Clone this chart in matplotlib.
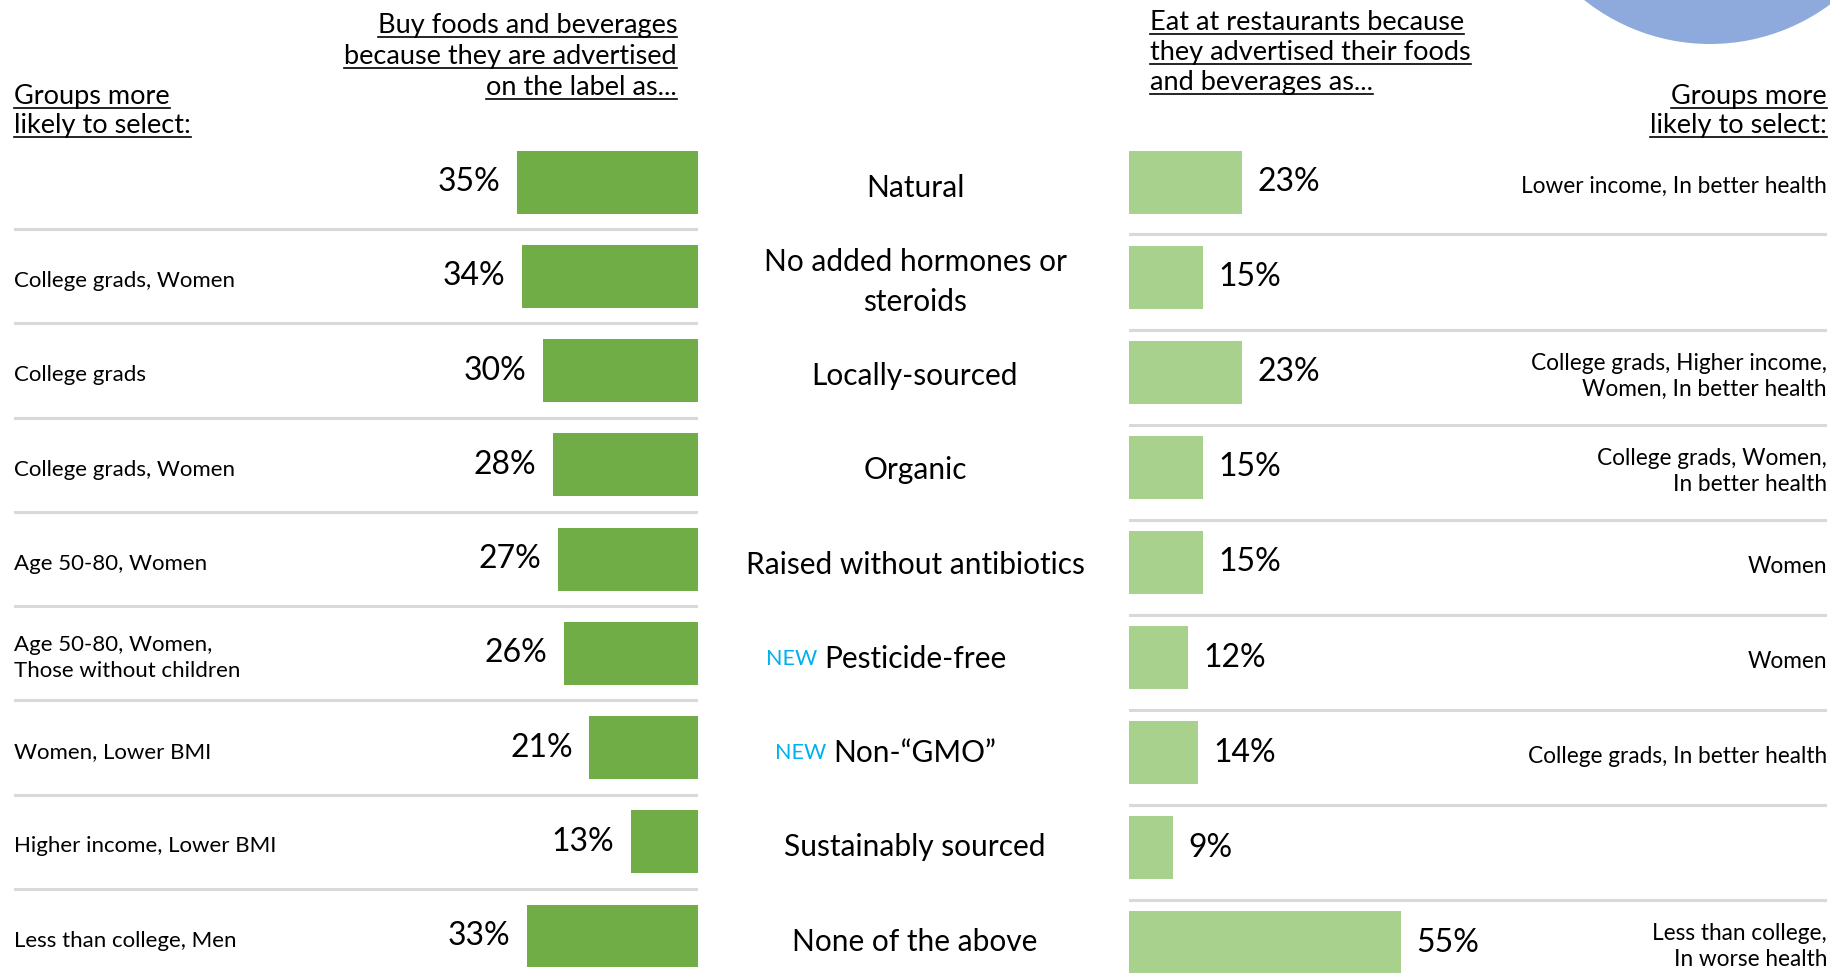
import matplotlib
matplotlib.use("Agg")
import matplotlib.pyplot as plt
from matplotlib.patches import Ellipse
from matplotlib.lines import Line2D
from matplotlib.transforms import blended_transform_factory

plt.rcParams['font.family'] = ['Lato', 'DejaVu Sans']

# data
claims = ["Natural", "No added hormones or\nsteroids", "Locally-sourced", "Organic",
          "Raised without antibiotics", "Pesticide-free", "Non-\u201cGMO\u201d",
          "Sustainably sourced", "None of the above"]
is_new = [False, False, False, False, False, True, True, False, False]
buy_pct = [35, 34, 30, 28, 27, 26, 21, 13, 33]
eat_pct = [23, 15, 23, 15, 15, 12, 14, 9, 55]
buy_groups = ["", "College grads, Women", "College grads", "College grads, Women",
              "Age 50-80, Women", "Age 50-80, Women,\nThose without children",
              "Women, Lower BMI", "Higher income, Lower BMI", "Less than college, Men"]
eat_groups = ["Lower income, In better health", "",
              "College grads, Higher income,\nWomen, In better health",
              "College grads, Women,\nIn better health", "Women", "Women",
              "College grads, In better health", "",
              "Less than college,\nIn worse health"]
buy_header = ["Buy foods and beverages", "because they are advertised", "on the label as..."]
eat_header = ["Eat at restaurants because", "they advertised their foods", "and beverages as..."]
groups_header = ["Groups more", "likely to select:"]

W, H = 1830, 973
DARK = "#70AD47"
LIGHT = "#A9D18E"
SEP = "#D9D9D9"

fig = plt.figure(figsize=(W / 100, H / 100), dpi=100)


def fx(px):
    return px / W


def fy(py):
    return 1 - py / H


n = len(claims)
rows = list(range(n))

# left panel: bars grow to the left
axl = fig.add_axes([fx(14), 0, fx(698 - 14), 1])
axl.barh(rows, buy_pct, height=0.668, color=DARK)
axl.set_xlim(684 / 5.17, 0)
axl.set_ylim((H - 182.1) / 94.24, -182.1 / 94.24)
for i in rows[:-1]:
    axl.axhline(i + 0.5, color=SEP, lw=2.2)
for i, v in enumerate(buy_pct):
    axl.annotate(f"{v}%", xy=(v, i), xytext=(-12, 0), textcoords="offset points",
                 ha="right", va="center", fontsize=23)
axl.axis("off")

# right panel
axr = fig.add_axes([fx(1128.6), 0, fx(1827 - 1128.6), 1])
axr.barh(rows, eat_pct, height=0.662, color=LIGHT)
axr.set_xlim(0, 698.4 / 4.95)
axr.set_ylim((H - 182.1) / 95.1, -182.1 / 95.1)
for i in rows[:-1]:
    axr.axhline(i + 0.55, color=SEP, lw=2.2)
for i, v in enumerate(eat_pct):
    axr.annotate(f"{v}%", xy=(v, i), xytext=(11, 0), textcoords="offset points",
                 ha="left", va="center", fontsize=23)
axr.axis("off")

# group labels
tl = blended_transform_factory(fig.transFigure, axl.transData)
tr = blended_transform_factory(fig.transFigure, axr.transData)
for i, g in enumerate(buy_groups):
    if g:
        fig.text(fx(14), i + 0.05, g, transform=tl, ha="left", va="center",
                 fontsize=16, linespacing=1.42)
for i, g in enumerate(eat_groups):
    if g:
        fig.text(fx(1827), i + 0.04, g, transform=tr, ha="right", va="center",
                 fontsize=16.3, linespacing=1.3)

# centre claim labels
for i, c in enumerate(claims):
    t = fig.text(fx(915), i + 0.06, c, transform=tl, ha="center", va="center",
                 fontsize=21.5, linespacing=1.5)
    if is_new[i]:
        axl.annotate("NEW", xy=(0, 1), xycoords=t, xytext=(-5, -3),
                     textcoords="offset points", ha="right", va="top",
                     color="#00B0F0", fontsize=15.5, annotation_clip=False)

# headers (underlined)
hs = 19.5
headers = []
for line, base in zip(buy_header, [33, 64, 95]):
    headers.append((fig.text(fx(677), fy(base), line, ha="right", va="baseline", fontsize=hs), base))
for line, base in zip(eat_header, [30, 60, 90]):
    headers.append((fig.text(fx(1150), fy(base), line, ha="left", va="baseline", fontsize=hs), base))
for line, base in zip(groups_header, [104, 133]):
    headers.append((fig.text(fx(14), fy(base), line, ha="left", va="baseline", fontsize=hs), base))
    headers.append((fig.text(fx(1827), fy(base), line, ha="right", va="baseline", fontsize=hs), base))

# decorative circle top right
fig.add_artist(Ellipse((fx(1710), fy(-158)), 2 * 202 / W, 2 * 202 / H,
                       transform=fig.transFigure, color="#8EA9DB", lw=0))

fig.canvas.draw()
r = fig.canvas.get_renderer()
for t, base in headers:
    bb = t.get_window_extent(r)
    fig.add_artist(Line2D([fx(bb.x0), fx(bb.x1)], [fy(base + 4), fy(base + 4)],
                          transform=fig.transFigure, color="black", lw=1.2))

fig.savefig("out.png", dpi=100)
